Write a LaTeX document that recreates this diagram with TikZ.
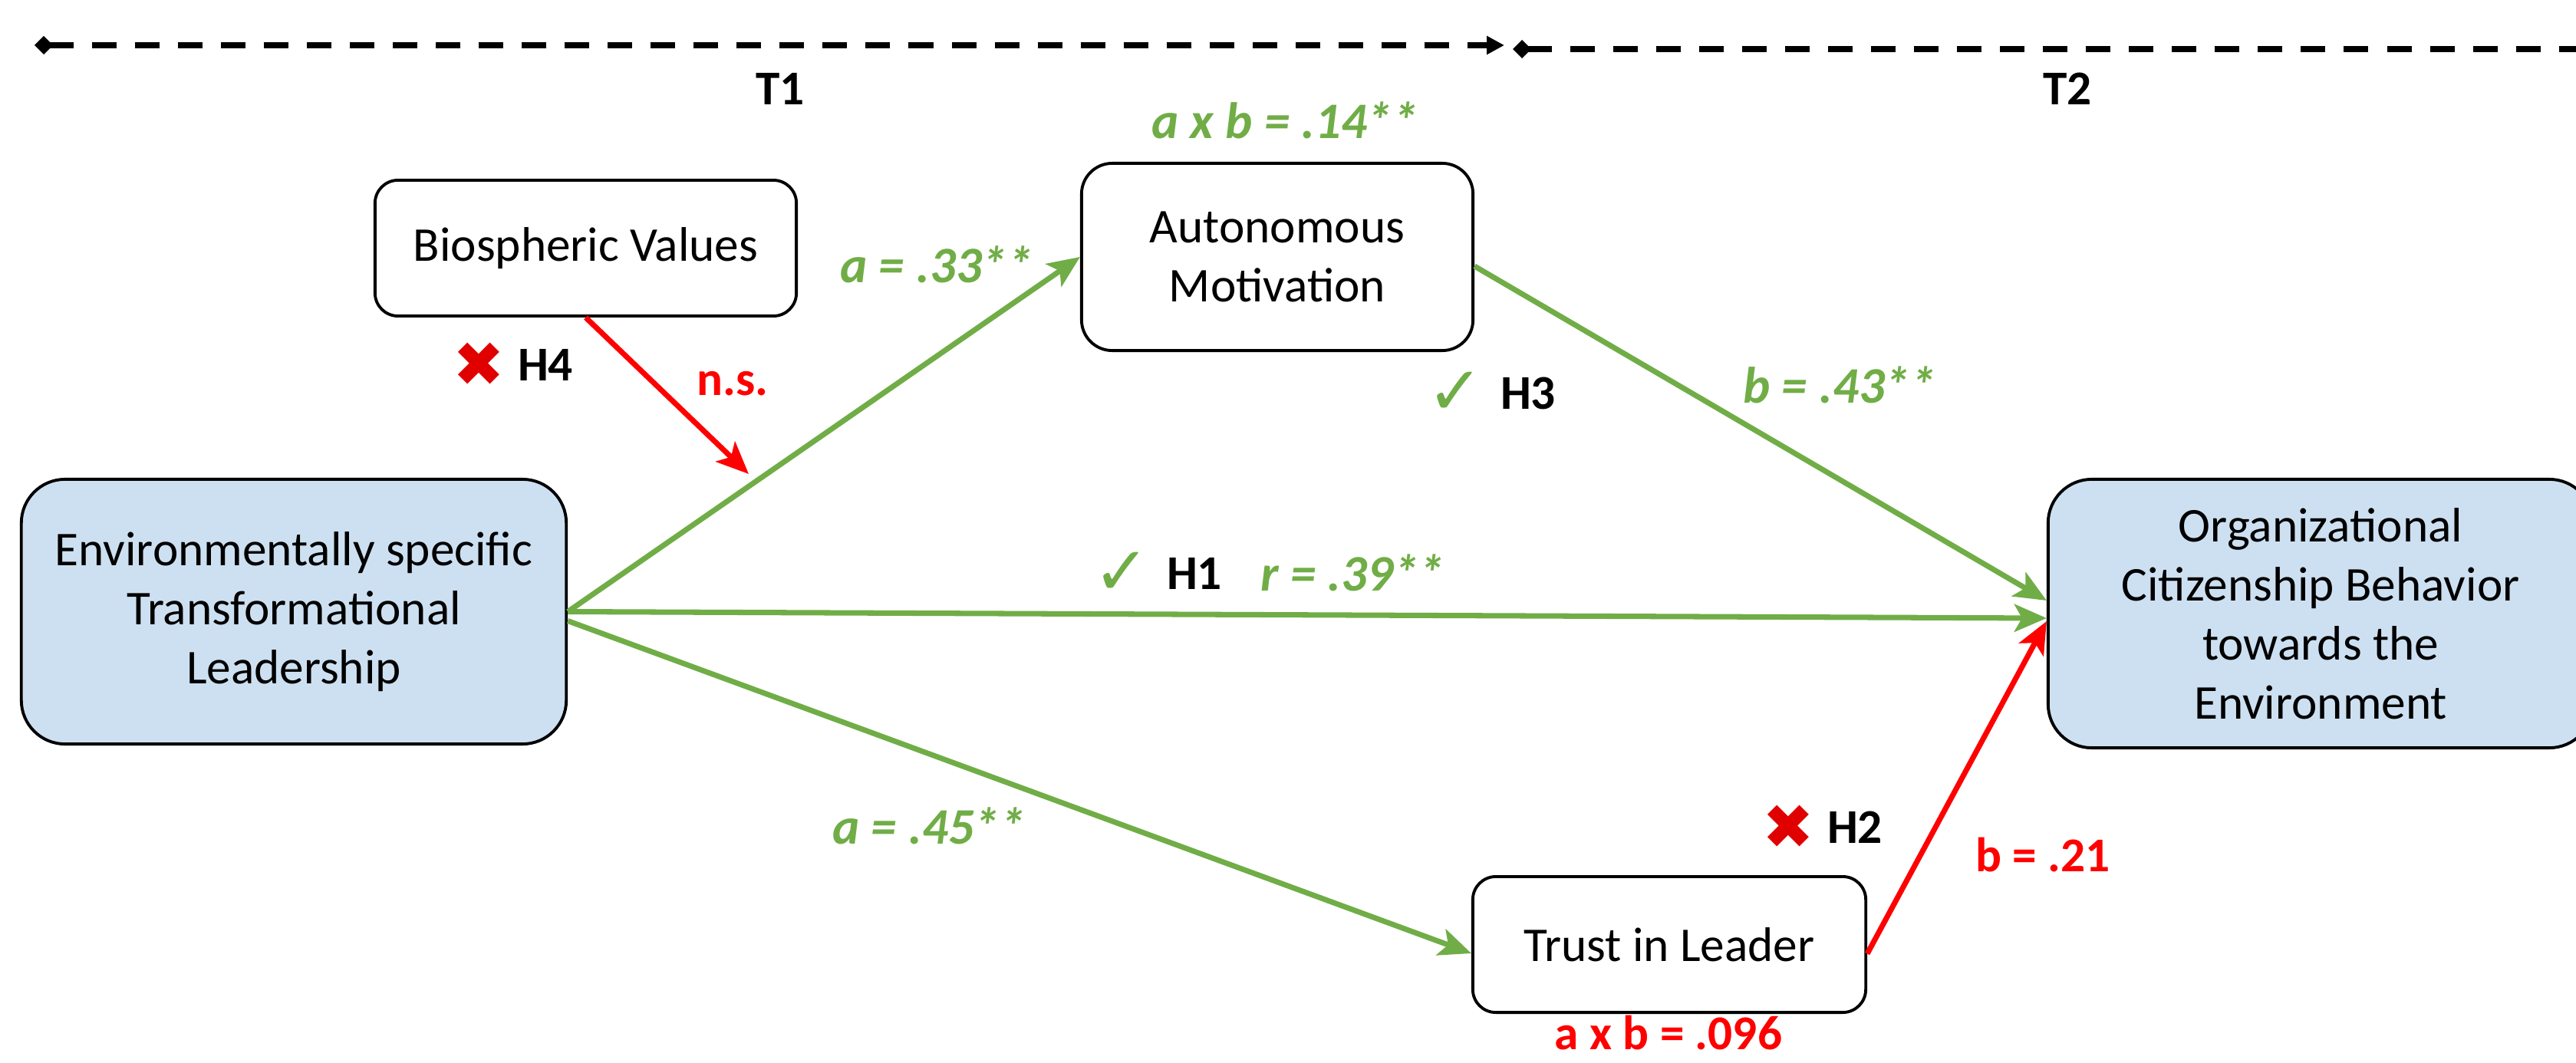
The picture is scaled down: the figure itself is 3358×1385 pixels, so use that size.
\documentclass[tikz,border=0pt]{standalone}
\usepackage{fontspec}
\setmainfont{Carlito}
\newfontfamily\symfont{DejaVu Sans}
\usetikzlibrary{arrows.meta,positioning}
\definecolor{pathgreen}{RGB}{112,173,71}
\definecolor{pathred}{RGB}{255,0,0}
\definecolor{crossred}{RGB}{224,0,0}
\definecolor{varblue}{RGB}{205,224,241}
\newcommand{\labelfont}{\fontsize{18}{21.9}\selectfont}
\newcommand{\coeffont}{\fontsize{19}{21.9}\selectfont}

\begin{document}
\begin{tikzpicture}[x=0.01cm,y=-0.01cm,font=\labelfont,
    var/.style={draw,line width=1.1pt,align=center,inner sep=0pt},
    sig/.style={draw=pathgreen,line width=2pt,-{Stealth[length=0.42cm,width=0.36cm,inset=0.1cm]}},
    nsig/.style={draw=pathred,line width=2pt,-{Stealth[length=0.42cm,width=0.36cm,inset=0.1cm]}},
    timeline/.style={line width=2.1pt,dash pattern=on 0.32cm off 0.24cm,
      {Diamond[length=0.24cm,width=0.24cm]}-{Triangle[length=0.23cm,width=0.23cm]}},
    glab/.style={text=pathgreen,font=\coeffont\bfseries\itshape,anchor=base,inner sep=0pt},
    rlab/.style={text=pathred,font=\labelfont\bfseries,anchor=base,inner sep=0pt},
    hyp/.style={font=\labelfont\bfseries,anchor=base,inner sep=0pt},
    nomark/.style={text=crossred,font=\symfont\fontsize{23}{23}\selectfont,inner sep=0pt},
    yesmark/.style={text=pathgreen,font=\symfont\fontsize{25}{25}\selectfont,inner sep=0pt}]
    \useasboundingbox (0,0) rectangle (3358,1385);
    \clip (0,0) rectangle (3358,1385);
    % Time line
    \coordinate (t1a) at (45,59);
    \coordinate (t1b) at (1961,59);
    \coordinate (t2a) at (1972,64);
    \coordinate (t2b) at (3420,64);
    \draw[timeline] (t1a) -- (t1b);
    \draw[timeline] (t2a) -- (t2b);
    \node[hyp] (time1) at (1017,137) {T1};
    \node[hyp] (time2) at (2695,137) {T2};
    % Variables
    \node[var,rounded corners=0.57cm,fill=varblue,minimum width=7.1cm,minimum height=3.45cm] (etl) at (383,797.5) {Environmentally specific\\Transformational\\Leadership};
    \node[var,rounded corners=0.57cm,fill=varblue,minimum width=7.1cm,minimum height=3.5cm] (ocb) at (3025,800) {Organizational\\Citizenship Behavior\\towards the\\Environment};
    \node[var,rounded corners=0.3cm,minimum width=5.49cm,minimum height=1.77cm] (bio) at (763.5,323.5) {Biospheric Values};
    \node[var,rounded corners=0.4cm,minimum width=5.1cm,minimum height=2.44cm] (auto) at (1665,335) {Autonomous\\Motivation};
    \node[var,rounded corners=0.3cm,minimum width=5.12cm,minimum height=1.77cm] (trust) at (2176,1231.5) {Trust in Leader};
    % Paths
    \coordinate (mod) at (976,618);
    \draw[sig] (etl.east) -- (auto.west);
    \draw[sig] ([yshift=-0.12cm]auto.east) -- ([yshift=0.17cm]ocb.west);
    \draw[sig] (etl.east) -- ([yshift=-0.06cm]ocb.west);
    \draw[sig] ([yshift=-0.12cm]etl.east) -- ([yshift=-0.115cm]trust.west);
    \draw[nsig] ([yshift=-0.12cm]trust.east) -- ([yshift=-0.1cm]ocb.west);
    \draw[nsig] (bio.south) -- (mod);
    % Coefficients
    \node[glab] (ab1) at (1675,180) {a x b = .14**};
    \node[glab] (a1) at (1221,368) {a = .33**};
    \node[glab] (b1) at (2398,525) {b = .43**};
    \node[glab] (r1) at (1763,770) {r = .39**};
    \node[glab] (a2) at (1211,1100) {a = .45**};
    \node[rlab] (ns) at (955,515) {n.s.};
    \node[rlab] (b2) at (2663,1136) {b = .21};
    \node[rlab] (ab2) at (2175,1368) {a x b = .096};
    % Hypotheses
    \node[hyp] (h1) at (1557,768) {H1};
    \node[hyp] (h2) at (2418,1099) {H2};
    \node[hyp] (h3) at (1992,533) {H3};
    \node[hyp] (h4) at (711,496) {H4};
    \node[yesmark,left=0.2cm of h1] (c1) {✓};
    \node[nomark,left=0.15cm of h2] (x2) {✖};
    \node[yesmark,left=0.2cm of h3] (c3) {✓};
    \node[nomark,left=0.15cm of h4] (x4) {✖};
\end{tikzpicture}
\end{document}
